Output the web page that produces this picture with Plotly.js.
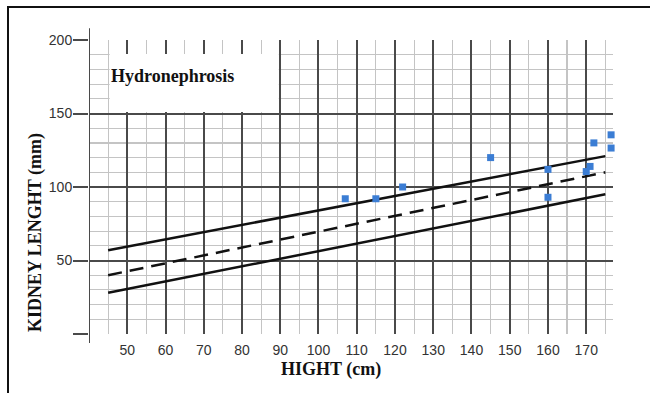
<!DOCTYPE html>
<html>
<head>
<meta charset="utf-8">
<script src="https://cdn.plot.ly/plotly-3.0.1.min.js"></script>
<style>
  html, body { margin: 0; padding: 0; background: #fff; }
  #chart { width: 650px; height: 393px; position: relative; }
  #frame { position: absolute; left: 7px; top: 6px; width: 650px; height: 400px;
           border-top: 2px solid #111; border-left: 2px solid #111; pointer-events: none; }
</style>
</head>
<body>
<div id="chart"></div>
<div id="frame"></div>
<script>
// Reference lines (height in cm -> kidney length in mm)
const lineX = [45, 175];
const upperY = [57, 121];
const meanY = [40, 110];
const lowerY = [28, 95];

// Patient measurements
const patientHeight = [107, 115, 122, 145, 160, 160, 170, 171, 172, 176.5, 176.5];
const patientLength = [92, 92, 100, 120, 112, 93, 110.5, 114, 130, 135.5, 126.5];

// Tick labels
const xTickVals = [50, 60, 70, 80, 90, 100, 110, 120, 130, 140, 150, 160, 170];
const yTickVals = [0, 50, 100, 150, 200];
const yTickText = ['', '50', '100', '150', '200'];

const serif = 'Liberation Serif, Times New Roman, serif';
const sans = 'Liberation Sans, Arial, sans-serif';

const traces = [
  { x: lineX, y: upperY, mode: 'lines', line: { color: '#111', width: 2.5 }, hoverinfo: 'skip' },
  { x: lineX, y: meanY, mode: 'lines', line: { color: '#111', width: 2.5, dash: '14px,8px' }, hoverinfo: 'skip' },
  { x: lineX, y: lowerY, mode: 'lines', line: { color: '#111', width: 2.5 }, hoverinfo: 'skip' },
  { x: patientHeight, y: patientLength, mode: 'markers', cliponaxis: false,
    marker: { symbol: 'square', size: 7, color: '#3b7dd4' } }
];

const layout = {
  width: 650, height: 393,
  margin: { l: 89, r: 36.8, t: 39.5, b: 59, pad: 0 },
  paper_bgcolor: '#fff', plot_bgcolor: '#fff',
  showlegend: false,
  xaxis: {
    range: [40, 177], tickmode: 'array', tickvals: xTickVals,
    showgrid: true, gridcolor: '#4a4a4a', gridwidth: 2,
    minor: { dtick: 5, tick0: 0, showgrid: true, gridcolor: '#c4c4c4', gridwidth: 1.2 },
    zeroline: false, showline: false, ticks: '',
    tickfont: { family: sans, size: 14, color: '#333' }, ticklabelstandoff: 6
  },
  yaxis: {
    range: [0, 200], tickmode: 'array', tickvals: yTickVals, ticktext: yTickText,
    showgrid: true, gridcolor: '#4a4a4a', gridwidth: 2,
    minor: { dtick: 10, tick0: 0, showgrid: true, gridcolor: '#c4c4c4', gridwidth: 1.2 },
    zeroline: false, showline: false,
    ticks: 'outside', ticklen: 15, tickwidth: 2, tickcolor: '#4a4a4a',
    tickfont: { family: sans, size: 14, color: '#333' }, ticklabelstandoff: -2
  },
  shapes: [
    // white label box
    { type: 'rect', layer: 'between', xref: 'x', yref: 'y', x0: 45.4, x1: 89.6, y0: 151, y1: 190.5,
      fillcolor: '#fff', line: { width: 0 } },
    // grid ends at the chart's right edge (x = 175.3)
    { type: 'rect', layer: 'between', xref: 'x', yref: 'paper', x0: 175.35, x1: 177.2, y0: -0.01, y1: 1.01,
      fillcolor: '#fff', line: { width: 0 } },
    // vertical axis line, extends beyond plot area
    { type: 'line', layer: 'above', xref: 'x', yref: 'paper', x0: 40, x1: 40, y0: -0.031, y1: 1.04,
      line: { color: '#4a4a4a', width: 2 } }
  ],
  annotations: [
    { text: 'Hydronephrosis', xref: 'x', yref: 'y', x: 45.2, y: 175.5, xanchor: 'left', yanchor: 'middle',
      showarrow: false, font: { family: serif, size: 18, color: '#111', weight: 'bold' } },
    { text: 'HIGHT (cm)', xref: 'paper', yref: 'paper', x: 0.4617, y: -0.122, xanchor: 'center', yanchor: 'middle',
      showarrow: false, font: { family: serif, size: 18, color: '#111', weight: 'bold' } },
    { text: 'KIDNEY LENGHT (mm)', xref: 'paper', yref: 'paper', x: -0.1033, y: 0.3463, xanchor: 'center', yanchor: 'middle',
      textangle: -90, showarrow: false, font: { family: serif, size: 18, color: '#111', weight: 'bold' } }
  ]
};

Plotly.newPlot('chart', traces, layout, { displayModeBar: false, staticPlot: true });
</script>
</body>
</html>
